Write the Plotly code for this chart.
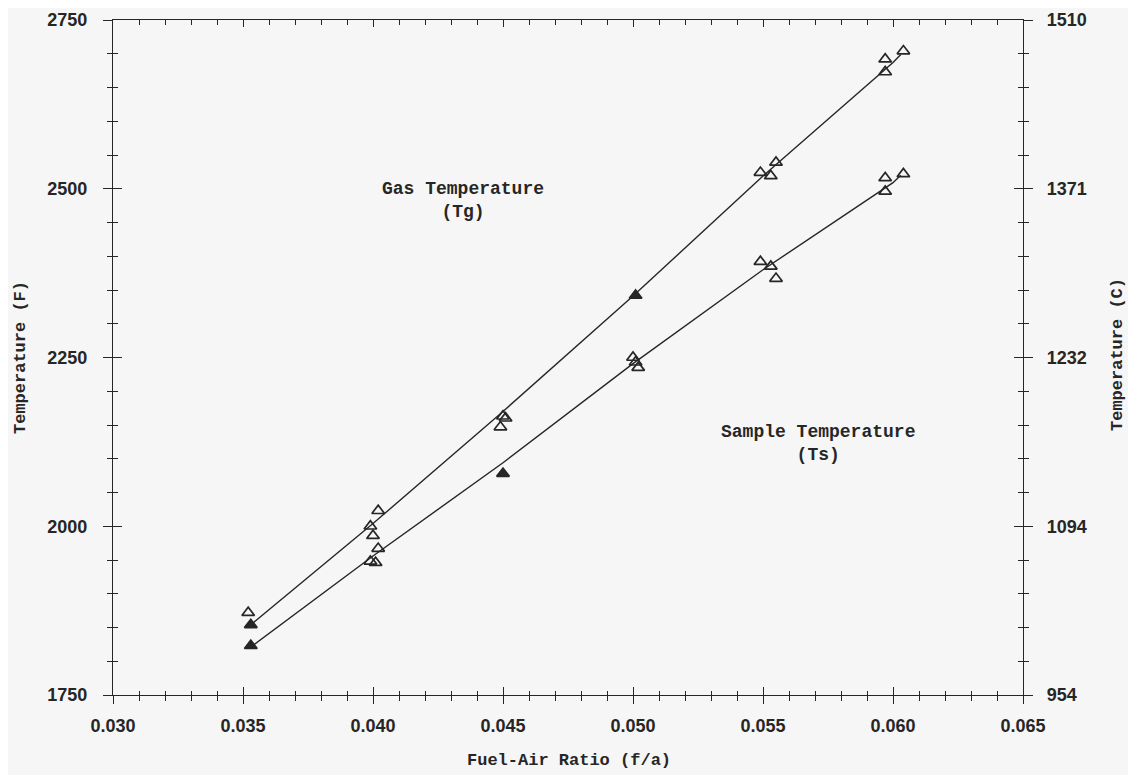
import plotly.graph_objects as go

# ---- data ----
gas_open_x = [0.0352, 0.0399, 0.0400, 0.0402, 0.0450, 0.0451, 0.0449, 0.0549, 0.0553, 0.0555, 0.0597, 0.0597, 0.0604]
gas_open_y = [1872, 2000, 1986, 2023, 2163, 2160, 2147, 2524, 2519, 2539, 2692, 2673, 2704]
gas_fill_x = [0.0353, 0.0501]
gas_fill_y = [1854, 2342]

samp_open_x = [0.0399, 0.0401, 0.0402, 0.0500, 0.0501, 0.0502, 0.0549, 0.0553, 0.0555, 0.0597, 0.0597, 0.0604]
samp_open_y = [1948, 1946, 1967, 2250, 2243, 2235, 2392, 2385, 2367, 2516, 2496, 2522]
samp_fill_x = [0.0353, 0.0450]
samp_fill_y = [1823, 2078]

gas_line_x = [0.0353, 0.0400, 0.0450, 0.0500, 0.0550, 0.0600, 0.0603]
gas_line_y = [1854, 2004, 2170, 2341, 2519, 2687, 2699]
samp_line_x = [0.0354, 0.0400, 0.0450, 0.0500, 0.0550, 0.0600, 0.0603]
samp_line_y = [1824, 1956, 2094, 2241, 2380, 2509, 2520]

f_ticks = [1750, 2000, 2250, 2500, 2750]
c_labels = ["954", "1094", "1232", "1371", "1510"]

INK = "#262626"
BG = "#f6f6f6"
XR = [0.030, 0.065]
YR = [1750, 2750]
MONO = "Liberation Mono"
SANS = "Liberation Sans"

# page offset (body margin) and plot-area pixel box in the screenshot
OFF = 8
PL, PR, PT, PB = 113, 1023, 20, 695
W, H = 1136, 775

fig = go.Figure()

fig.add_trace(go.Scatter(x=gas_line_x, y=gas_line_y, mode="lines",
                         line=dict(color=INK, width=1.4), showlegend=False))
fig.add_trace(go.Scatter(x=samp_line_x, y=samp_line_y, mode="lines",
                         line=dict(color=INK, width=1.4), showlegend=False))
for xs, ys, sym in [(gas_open_x, gas_open_y, "triangle-up-open"),
                    (samp_open_x, samp_open_y, "triangle-up-open"),
                    (gas_fill_x, gas_fill_y, "triangle-up"),
                    (samp_fill_x, samp_fill_y, "triangle-up")]:
    fig.add_trace(go.Scatter(x=xs, y=ys, mode="markers", showlegend=False,
                             marker=dict(symbol=sym, size=11, color=INK,
                                         line=dict(color=INK, width=1.7))))

# dummy traces so the overlay axes get drawn
for xa, ya in [("x2", "y"), ("x3", "y"), ("x", "y2"), ("x", "y3"), ("x", "y4")]:
    fig.add_trace(go.Scatter(x=[None], y=[None], xaxis=xa, yaxis=ya,
                             showlegend=False, hoverinfo="skip"))

common_x = dict(range=XR, autorange=False, showgrid=False, zeroline=False, automargin=False,
                tick0=0.030, dtick=0.005, tickcolor=INK, tickwidth=1.3, linecolor=INK, linewidth=1.3)
common_y = dict(range=YR, autorange=False, showgrid=False, zeroline=False, automargin=False,
                tick0=1750, dtick=250, tickcolor=INK, tickwidth=1.3, linecolor=INK, linewidth=1.3)

fig.update_layout(
    width=W, height=H,
    paper_bgcolor=BG, plot_bgcolor=BG,
    margin=dict(l=PL - OFF, r=W - (PR - OFF), t=PT - OFF, b=H - (PB - OFF), autoexpand=False),
    showlegend=False,
    xaxis=dict(**common_x, side="bottom", ticks="outside", ticklen=8, showline=True,
               tickformat=".3f",
               tickfont=dict(family=SANS, size=18, color=INK, weight="bold"),
               ticklabelstandoff=6,
               minor=dict(ticks="outside", ticklen=5, tick0=0.030, dtick=0.001,
                          tickcolor=INK, tickwidth=1.2)),
    xaxis2=dict(**common_x, overlaying="x", side="bottom", anchor="y", ticks="inside",
                ticklen=8, showline=False, showticklabels=False,
                minor=dict(ticks="inside", ticklen=4, tick0=0.030, dtick=0.001,
                           tickcolor=INK, tickwidth=1.2)),
    xaxis3=dict(**common_x, overlaying="x", side="top", anchor="y", ticks="inside",
                ticklen=7, showline=True, showticklabels=False,
                minor=dict(ticks="inside", ticklen=5, tick0=0.030, dtick=0.001,
                           tickcolor=INK, tickwidth=1.2)),
    yaxis=dict(**common_y, side="left", ticks="outside", ticklen=9, showline=True,
               tickfont=dict(family=SANS, size=18, color=INK, weight="bold"),
               ticklabelstandoff=12,
               minor=dict(ticks="outside", ticklen=5, tick0=1750, dtick=50,
                          tickcolor=INK, tickwidth=1.2)),
    yaxis2=dict(**common_y, overlaying="y", side="right", anchor="x", ticks="outside",
                ticklen=9, showline=True, tickmode="array", tickvals=f_ticks, ticktext=c_labels,
                tickfont=dict(family=SANS, size=18, color=INK, weight="bold"),
                ticklabelstandoff=10,
                minor=dict(ticks="outside", ticklen=5, tickmode="linear", tick0=1750, dtick=50,
                           tickcolor=INK, tickwidth=1.2)),
    yaxis3=dict(**common_y, overlaying="y", side="left", anchor="x", ticks="inside",
                ticklen=9, showline=False, showticklabels=False,
                minor=dict(ticks="inside", ticklen=5, tick0=1750, dtick=50,
                           tickcolor=INK, tickwidth=1.2)),
    yaxis4=dict(**common_y, overlaying="y", side="right", anchor="x", ticks="inside",
                ticklen=9, showline=False, showticklabels=False,
                minor=dict(ticks="inside", ticklen=5, tick0=1750, dtick=50,
                           tickcolor=INK, tickwidth=1.2)),
)


def paper_xy(px, py):
    """screenshot pixel -> paper coordinate (relative to plot area)"""
    return (px - PL) / (PR - PL), 1 - (py - PT) / (PB - PT)


tfont = dict(family=MONO, size=18, color=INK, weight="bold")
fig.add_annotation(x=0.04345, y=2483, xref="x", yref="y", text="Gas Temperature<br>(Tg)",
                   showarrow=False, font=tfont, align="center")
fig.add_annotation(x=0.0571, y=2122, xref="x", yref="y", text="Sample Temperature<br>(Ts)",
                   showarrow=False, font=tfont, align="center")

afont = dict(family=MONO, size=17, color=INK, weight="bold")
x, y = paper_xy(20, 358)
fig.add_annotation(x=x, y=y, xref="paper", yref="paper", xanchor="center", yanchor="middle",
                   textangle=-90, text="Temperature (F)", showarrow=False, font=afont)
x, y = paper_xy(1118, 355)
fig.add_annotation(x=x, y=y, xref="paper", yref="paper", xanchor="center", yanchor="middle",
                   textangle=-90, text="Temperature (C)", showarrow=False, font=afont)
x, y = paper_xy(569, 760)
fig.add_annotation(x=x, y=y, xref="paper", yref="paper", xanchor="center", yanchor="middle",
                   text="Fuel-Air Ratio (f/a)", showarrow=False, font=afont)

fig.write_html("out.html")
